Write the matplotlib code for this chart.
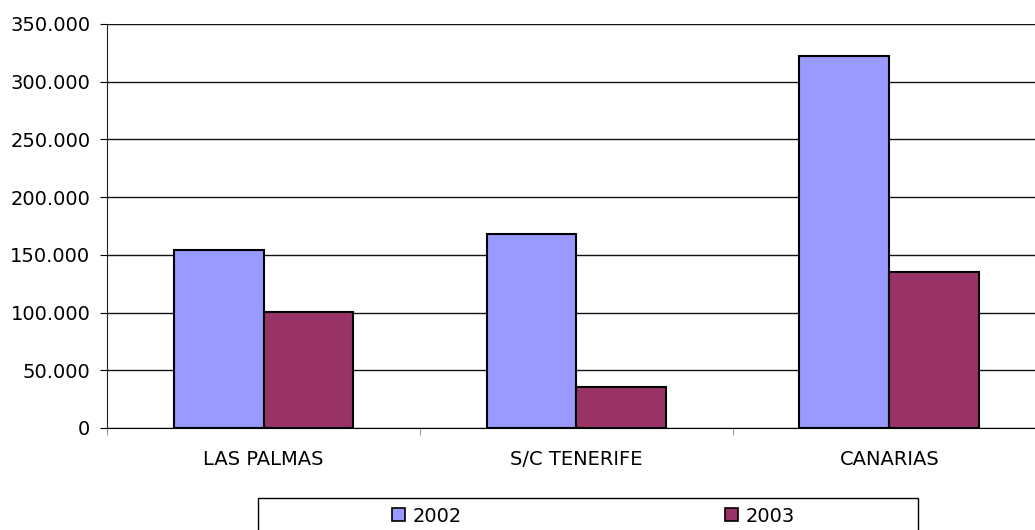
import numpy as np
import matplotlib
matplotlib.use('Agg')
from matplotlib import pyplot as plt
from matplotlib.patches import Patch, Rectangle
from matplotlib.ticker import FuncFormatter, FixedLocator

categories = ['LAS PALMAS', 'S/C TENERIFE', 'CANARIAS']
years = ['2002', '2003']
values_2002 = [154300, 168300, 322600]
values_2003 = [100300, 35100, 135400]
colors = ['#9999FF', '#993366']

plt.rcParams['font.family'] = ['DejaVu Sans']
fs = 14

fig = plt.figure(figsize=(10.35, 5.30), dpi=100)
ax = fig.add_axes([0.1034, 0.1925, 0.9072, 0.7623])

x = np.arange(len(categories))
w = 0.2875
for i, (vals, c) in enumerate(zip([values_2002, values_2003], colors)):
    ax.bar(x + (i - 0.5) * w, vals, width=w, color=c, edgecolor='black',
           linewidth=1.5, zorder=3, label=years[i])

ax.set_xlim(-0.5, len(categories) - 0.5)
ax.set_ylim(0, 350000)
ax.set_yticks(np.arange(0, 350001, 50000))
ax.yaxis.set_major_formatter(FuncFormatter(lambda v, p: '{:,.0f}'.format(v).replace(',', '.')))
ax.grid(axis='y', color='#111111', linewidth=1, zorder=0)

ax.set_xticks(x)
ax.set_xticklabels(categories)
ax.xaxis.set_minor_locator(FixedLocator(np.arange(-0.5, len(categories), 1.0)))
ax.tick_params(axis='x', which='major', length=0, pad=16, labelsize=fs)
ax.tick_params(axis='x', which='minor', length=5, color='#808080', direction='out')
ax.tick_params(axis='y', length=5, direction='out', pad=7, labelsize=fs)

for side in ['top', 'right']:
    ax.spines[side].set_visible(False)
ax.spines['left'].set_color('#222222')
ax.spines['bottom'].set_color('black')

# legend box below the plot
handles = [Patch(facecolor=c, edgecolor='black', linewidth=1.2) for c in colors]
fig.legend(handles, years, loc='center left', bbox_to_anchor=(382 / 1035, 1 - 516 / 530),
           ncol=2, frameon=False, fontsize=fs, borderpad=0, handlelength=0.67,
           handleheight=0.67, handletextpad=0.42, columnspacing=13.5)
fig.add_artist(Rectangle((258 / 1035, -0.1), 660 / 1035, 0.1 + 32 / 530,
                         transform=fig.transFigure, fill=False, edgecolor='black',
                         linewidth=1))

fig.savefig('out.png', dpi=100)
